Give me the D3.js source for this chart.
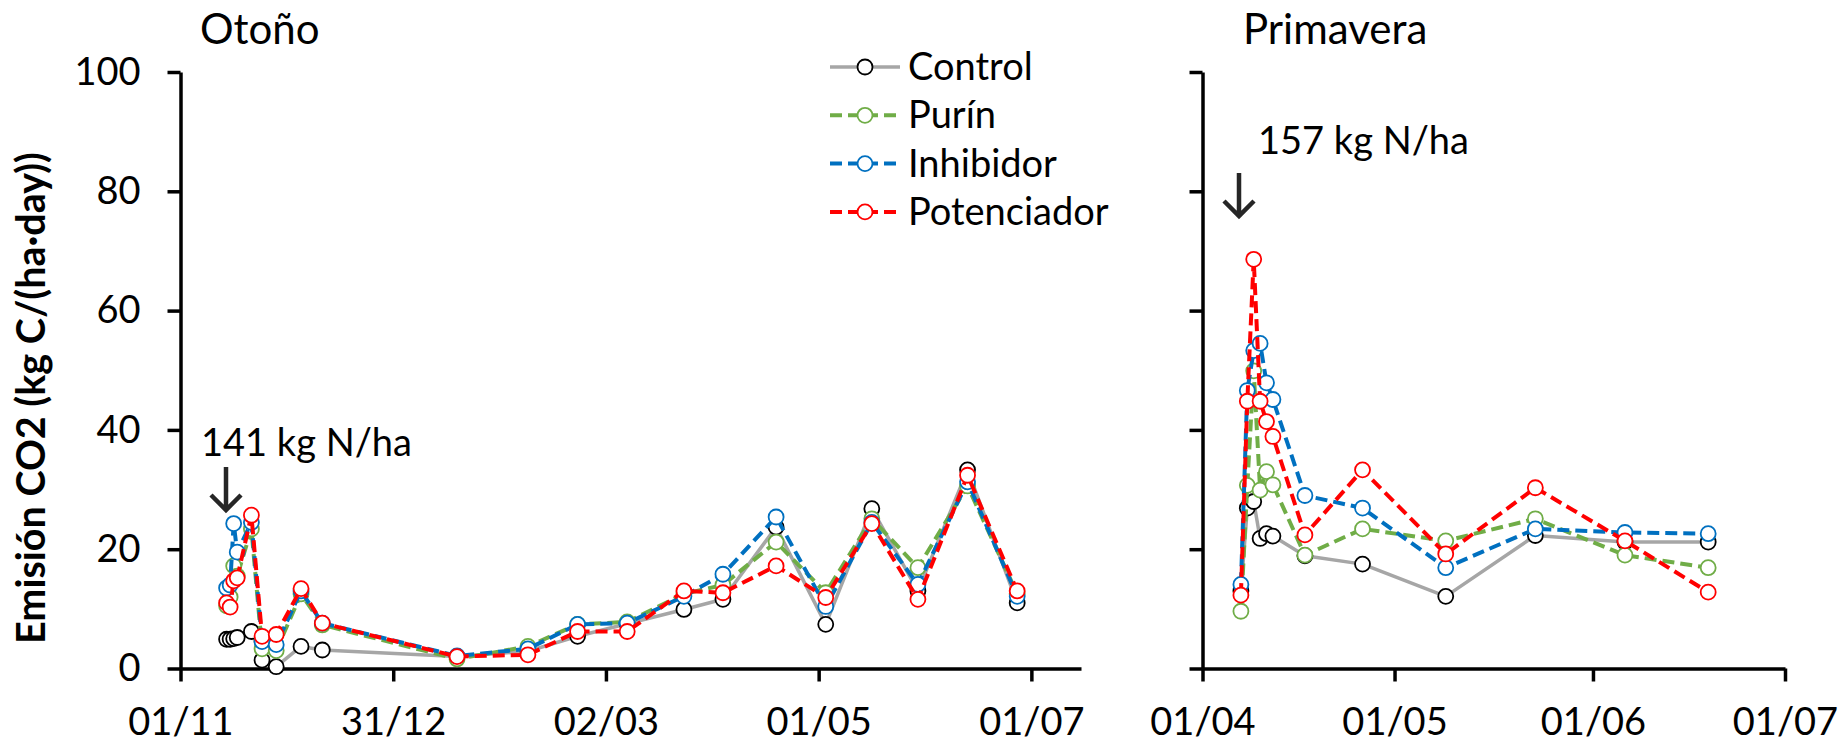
<!DOCTYPE html>
<html lang="es">
<head>
<meta charset="UTF-8">
<title>Emisión CO2 - Otoño / Primavera</title>
<script src="https://cdn.jsdelivr.net/npm/d3@7"></script>
<style>
  body { margin: 0; background: #fff; }
  svg text { font-family: Lato, "Open Sans", sans-serif; fill: #000; }
</style>
</head>
<body>
<svg id="chart" width="1846" height="743"></svg>
<script>
// series / tick data
const seriesNames = ["Control", "Purín", "Inhibidor", "Potenciador"];
const yTicks = [0, 20, 40, 60, 80, 100];

// Otoño: days since 01/11
const otonoDays = [13, 14, 15, 16, 20, 23, 27, 34, 40, 78, 98, 112, 126, 142, 153, 168, 182, 195, 208, 222, 236];
const otonoControl = [4.9, 4.9, 5.0, 5.2, 6.2, 1.4, 0.3, 3.7, 3.1, 2.0, 2.9, 5.4, 7.5, 9.9, 11.6, 23.7, 7.4, 26.8, 13.0, 33.3, 11.0];
const otonoPurin = [10.5, 12.0, 17.2, 15.5, 23.4, 3.3, 3.0, 12.5, 7.3, 1.6, 3.7, 7.4, 7.8, 12.5, 14.0, 21.2, 12.7, 25.1, 16.9, 30.6, 12.5];
const otonoInhibidor = [13.5, 14.0, 24.3, 19.5, 24.5, 4.5, 4.0, 13.0, 7.6, 2.1, 3.3, 7.4, 7.6, 12.1, 15.8, 25.4, 10.4, 24.5, 14.1, 31.3, 12.1];
const otonoPotenciador = [11.0, 10.3, 14.7, 15.2, 25.7, 5.4, 5.7, 13.4, 7.6, 2.0, 2.3, 6.2, 6.2, 13.0, 12.7, 17.2, 11.9, 24.3, 11.6, 32.4, 13.0];
const otonoTickDays = [0, 60, 120, 180, 240];
const otonoTickLabels = ["01/11", "31/12", "02/03", "01/05", "01/07"];

// Primavera: days since 01/04
const primDays = [6, 7, 8, 9, 10, 11, 16, 25, 38, 52, 66, 79];
const primControl = [13.0, 26.9, 28.0, 21.8, 22.6, 22.2, 18.9, 17.5, 12.1, 22.3, 21.2, 21.2];
const primPurin = [9.6, 30.7, 49.9, 29.9, 33.0, 30.8, 19.0, 23.4, 21.4, 25.1, 19.0, 16.9];
const primInhibidor = [14.1, 46.6, 53.3, 54.5, 47.9, 45.1, 29.0, 26.9, 16.9, 23.4, 22.8, 22.6];
const primPotenciador = [12.3, 44.8, 68.6, 44.8, 41.4, 38.9, 22.4, 33.3, 19.2, 30.3, 21.4, 12.8];
const primTickDays = [0, 30, 61, 91];
const primTickLabels = ["01/04", "01/05", "01/06", "01/07"];

const styles = {
  "Control":     { line: "#a6a6a6", marker: "#000000", dash: null,   width: 3.5 },
  "Purín":       { line: "#70ad47", marker: "#70ad47", dash: "12,6", width: 4 },
  "Inhibidor":   { line: "#0070c0", marker: "#0070c0", dash: "12,6", width: 4 },
  "Potenciador": { line: "#ff0000", marker: "#ff0000", dash: "12,6", width: 4 }
};

const svg = d3.select("#chart");
const y = d3.scaleLinear().domain([0, 100]).range([668.5, 72]);

const panels = [
  { title: "Otoño", days: otonoDays, values: [otonoControl, otonoPurin, otonoInhibidor, otonoPotenciador],
    x: d3.scaleLinear().domain([0, 254]).range([180.5, 1081]),
    ticks: otonoTickDays, labels: otonoTickLabels, yLabels: true,
    titleX: 200, note: "141 kg N/ha", noteX: 201, noteY: 456, arrowX: 226, arrowY: 467 },
  { title: "Primavera", days: primDays, values: [primControl, primPurin, primInhibidor, primPotenciador],
    x: d3.scaleLinear().domain([0, 91]).range([1202.5, 1785]),
    ticks: primTickDays, labels: primTickLabels, yLabels: false,
    titleX: 1243, note: "157 kg N/ha", noteX: 1258, noteY: 154, arrowX: 1239, arrowY: 173 }
];

panels.forEach(p => {
  const g = svg.append("g");

  // axes
  const yAxis = d3.axisLeft(y).tickValues(yTicks).tickSize(13).tickSizeOuter(0).tickPadding(27)
    .tickFormat(p.yLabels ? d3.format("d") : () => "");
  const xAxis = d3.axisBottom(p.x).tickValues(p.ticks).tickSize(13).tickSizeOuter(0).tickPadding(27)
    .tickFormat((d, i) => p.labels[i]);

  const gy = g.append("g").attr("transform", `translate(${p.x.range()[0]},0)`).call(yAxis);
  const gx = g.append("g").attr("transform", `translate(0,${y(0)})`).call(xAxis);
  [gx, gy].forEach(a => {
    a.select(".domain").attr("stroke", "#000").attr("stroke-width", 3.5);
    a.selectAll(".tick line").attr("stroke", "#000").attr("stroke-width", 3.5);
    a.selectAll(".tick text").attr("font-size", 38).attr("font-family", "Lato");
  });

  // title
  g.append("text").attr("x", p.titleX).attr("y", 44).attr("font-size", 42).text(p.title);

  // fertilisation note + arrow
  g.append("text").attr("x", p.noteX).attr("y", p.noteY).attr("font-size", 38).text(p.note);
  const ax = p.arrowX, ay = p.arrowY;
  g.append("path")
    .attr("d", `M${ax},${ay}V${ay + 43}M${ax - 15},${ay + 28}L${ax},${ay + 43}L${ax + 15},${ay + 28}`)
    .attr("fill", "none").attr("stroke", "#262626").attr("stroke-width", 4.5);

  // series, drawn in order: line then markers
  seriesNames.forEach((name, si) => {
    const st = styles[name];
    const pts = p.days.map((d, i) => [d, p.values[si][i]]);
    const line = d3.line().x(d => p.x(d[0])).y(d => y(d[1]));
    g.append("path").datum(pts)
      .attr("d", line)
      .attr("fill", "none")
      .attr("stroke", st.line)
      .attr("stroke-width", st.width)
      .attr("stroke-dasharray", st.dash)
      .attr("stroke-linejoin", "round");
    g.append("g").selectAll("circle").data(pts).join("circle")
      .attr("cx", d => p.x(d[0]))
      .attr("cy", d => y(d[1]))
      .attr("r", 7.5)
      .attr("fill", "#fff")
      .attr("stroke", st.marker)
      .attr("stroke-width", 1.8);
  });
});

// y axis title
svg.append("text")
  .attr("transform", "translate(45,398) rotate(-90)")
  .attr("text-anchor", "middle")
  .attr("font-size", 39.5)
  .attr("font-weight", "bold")
  .text("Emisión CO2 (kg C/(ha·day))");

// legend
const legend = svg.append("g");
seriesNames.forEach((name, i) => {
  const st = styles[name];
  const ly = 67 + i * 48.3;
  legend.append("line")
    .attr("x1", 830).attr("x2", 900).attr("y1", ly).attr("y2", ly)
    .attr("stroke", st.line).attr("stroke-width", st.width)
    .attr("stroke-dasharray", st.dash);
  legend.append("circle")
    .attr("cx", 865).attr("cy", ly).attr("r", 7.5)
    .attr("fill", "#fff").attr("stroke", st.marker).attr("stroke-width", 1.8);
  legend.append("text")
    .attr("x", 908).attr("y", ly + 13).attr("font-size", 38)
    .text(name);
});
</script>
</body>
</html>
